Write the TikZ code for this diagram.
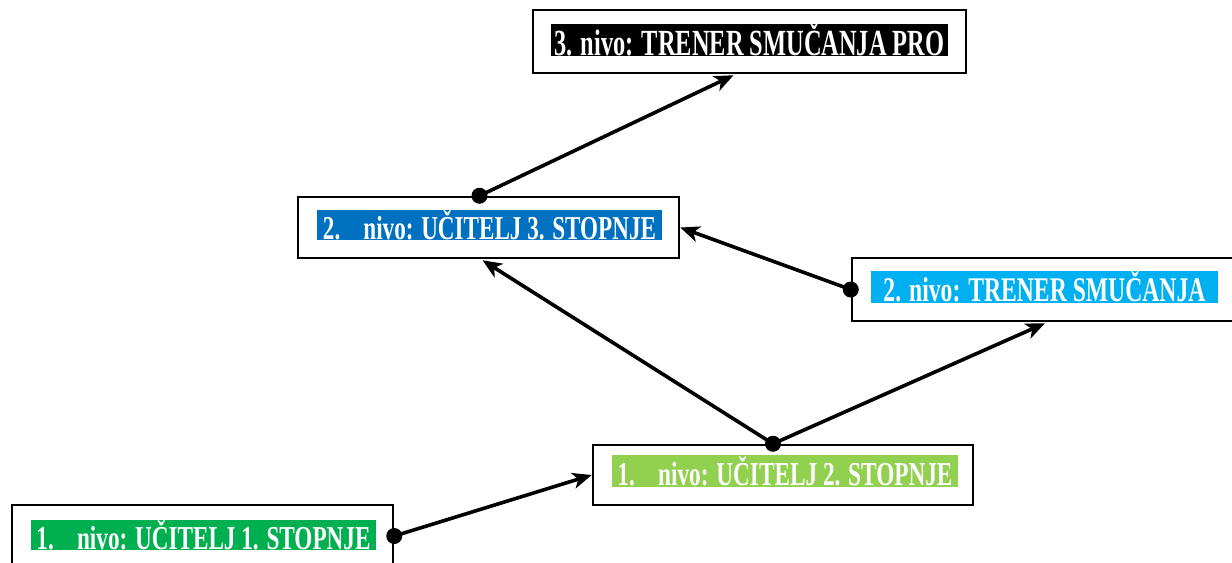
\documentclass[tikz,border=0pt]{standalone}
\usepackage{fontspec}
\setmainfont{Liberation Serif}
\usetikzlibrary{arrows.meta,calc}
\definecolor{lvlthree}{RGB}{0,0,0}
\definecolor{lvltwou}{RGB}{0,112,192}
\definecolor{lvltwot}{RGB}{0,176,240}
\definecolor{lvloneb}{RGB}{146,208,80}
\definecolor{lvlonea}{RGB}{0,176,80}
\newlength{\pxu}\setlength{\pxu}{0.025cm}
\newcommand{\lbl}[3]{\resizebox{#1\pxu}{#2\pxu}{\bfseries #3}}
\begin{document}
\begin{tikzpicture}[x=1\pxu, y=-1\pxu,
  lvlbox/.style={draw, line width=2.5\pxu, fill=white, inner sep=0pt, minimum height=62\pxu},
  band/.style={inner sep=0pt, text=white, minimum height=32\pxu},
  conn/.style={line width=0.09cm, -{Stealth[length=0.48cm,width=0.4cm,inset=0.13cm]}},
  dot/.style={fill=black}]
\useasboundingbox (0,0) rectangle (1232,562);
\clip (0,0) rectangle (1232,562);
% outer boxes
\node[lvlbox, minimum width=433\pxu, minimum height=63\pxu] (n3) at (749.5,41.5) {};
\node[lvlbox, minimum width=381\pxu, minimum height=61\pxu] (n2u) at (488.5,227.5) {};
\node[lvlbox, minimum width=384\pxu, minimum height=63\pxu] (n2t) at (1044,289.5) {};
\node[lvlbox, minimum width=380\pxu, minimum height=60\pxu] (n1b) at (783,475) {};
\node[lvlbox, minimum width=381\pxu, minimum height=62\pxu] (n1a) at (202.5,536) {};
% coloured labels
\begin{scope}[every node/.style={band}]
\node[fill=lvlthree, minimum width=397\pxu] (t3) at (749.5,40) {\lbl{390}{32}{3. nivo: TRENER SMUČANJA PRO}};
\node[fill=lvltwou, minimum width=345\pxu, minimum height=30\pxu] (t2u) at (489.5,225) {\lbl{333}{29}{2.\hspace{1em}nivo: UČITELJ 3. STOPNJE}};
\node[fill=lvltwot, minimum width=347\pxu] (t2t) at (1044.5,287) {\lbl{322}{30}{2. nivo: TRENER SMUČANJA}\hspace{23\pxu}};
\node[fill=lvloneb, minimum width=346\pxu] (t1b) at (785,471) {\lbl{335}{29}{1.\hspace{1em}nivo: UČITELJ 2. STOPNJE}};
\node[fill=lvlonea, minimum width=345\pxu, minimum height=30\pxu] (t1a) at (203.5,535) {\lbl{334}{29}{1.\hspace{1em}nivo: UČITELJ 1. STOPNJE}};
\end{scope}
% connectors
\coordinate (d2u) at ($(n2u.north)+(-9,0)$);
\coordinate (d1b) at ($(n1b.north)+(-10,0)$);
\draw[conn] (d2u) -- ($(n3.south)+(-16,1)$);
\draw[conn] (n2t.west) -- (n2u.east);
\draw[conn] (d1b) -- ($(n2u.south)+(-6,1)$);
\draw[conn] (d1b) -- ($(n2t.south)+(1,1)$);
\draw[conn] (n1a.east) -- (n1b.west);
\foreach \p in {d2u, n2t.west, d1b, n1a.east}
  \fill[dot] (\p) circle[radius=0.2cm];
\end{tikzpicture}
\end{document}
